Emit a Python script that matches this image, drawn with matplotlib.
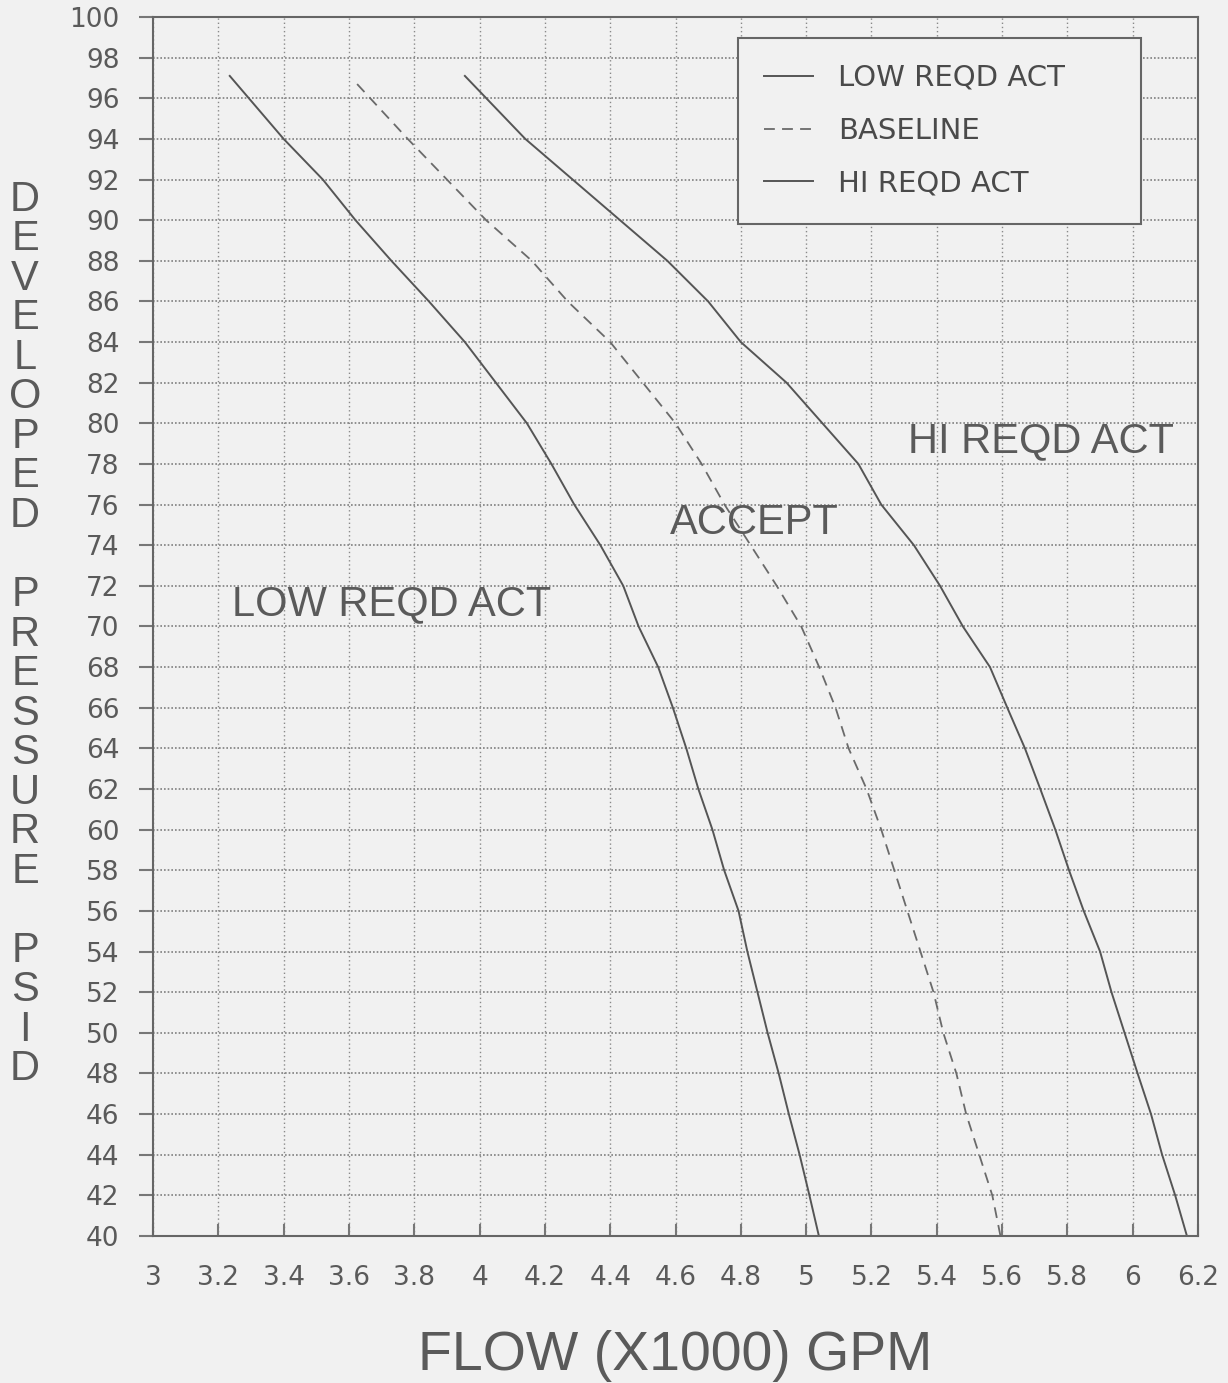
import matplotlib
matplotlib.use("Agg")
import matplotlib.pyplot as plt
from matplotlib.transforms import blended_transform_factory

# pump curve limits (pressure psid vs flow x1000 gpm)
low_press = [97.1, 94, 92, 90, 88, 86, 84, 82, 80, 78, 76, 74, 72, 70, 68,
             66, 64, 62, 60, 58, 56, 54, 52, 50, 48, 46, 44, 42, 40]
low_flow = [3.235, 3.40, 3.52, 3.62, 3.73, 3.845, 3.955, 4.05, 4.145, 4.22,
            4.29, 4.37, 4.44, 4.487, 4.547, 4.592, 4.633, 4.67, 4.713, 4.749,
            4.793, 4.82, 4.851, 4.882, 4.916, 4.947, 4.98, 5.01, 5.039]

base_press = [96.7, 94, 92, 90, 88, 86, 84, 82, 80, 78, 76, 74, 72, 70, 68,
              66, 64, 62, 60, 58, 56, 54, 52, 50, 48, 46, 44, 42, 40]
base_flow = [3.625, 3.78, 3.90, 4.02, 4.16, 4.27, 4.40, 4.50, 4.60, 4.68,
             4.75, 4.83, 4.91, 4.985, 5.04, 5.09, 5.13, 5.185, 5.23, 5.27,
             5.31, 5.35, 5.39, 5.42, 5.46, 5.49, 5.53, 5.57, 5.595]

hi_press = [97.1, 94, 92, 90, 88, 86, 84, 82, 80, 78, 76, 74, 72, 70, 68,
            66, 64, 62, 60, 58, 56, 54, 52, 50, 48, 46, 44, 42, 40]
hi_flow = [3.955, 4.14, 4.285, 4.43, 4.575, 4.70, 4.80, 4.94, 5.05, 5.16,
           5.23, 5.33, 5.41, 5.48, 5.563, 5.616, 5.67, 5.717, 5.763, 5.805,
           5.85, 5.90, 5.935, 5.975, 6.015, 6.056, 6.09, 6.13, 6.166]

x_ticks = [3, 3.2, 3.4, 3.6, 3.8, 4, 4.2, 4.4, 4.6, 4.8, 5, 5.2, 5.4, 5.6,
           5.8, 6, 6.2]
x_tick_labels = ['3', '3.2', '3.4', '3.6', '3.8', '4', '4.2', '4.4', '4.6',
                 '4.8', '5', '5.2', '5.4', '5.6', '5.8', '6', '6.2']
y_ticks = list(range(40, 101, 2))

region_labels = ['LOW REQD ACT', 'ACCEPT', 'HI REQD ACT']
region_x = [3.73, 4.84, 5.72]
region_y = [71.1, 75.1, 79.1]

bg = '#f1f1f1'
txt = '#5a5a5a'
sans = ['Liberation Sans', 'DejaVu Sans']

fig = plt.figure(figsize=(12.28, 13.83), dpi=100, facecolor=bg)
ax = fig.add_axes([0.1246, 0.1063, 0.851, 0.8814])
ax.set_facecolor(bg)

ax.plot(low_flow, low_press, color='#555555', lw=1.4, label='LOW REQD ACT')
ax.plot(base_flow, base_press, color='#6a6a6a', lw=1.3, ls=(0, (6, 4)),
        label='BASELINE')
ax.plot(hi_flow, hi_press, color='#555555', lw=1.4, label='HI REQD ACT')

ax.set_xlim(3, 6.2)
ax.set_ylim(40, 100)
ax.set_xticks(x_ticks)
ax.set_xticklabels(x_tick_labels)
ax.set_yticks(y_ticks)

ax.set_axisbelow(True)
ax.xaxis.grid(True, ls=(0, (1, 2)), color='#8a8a8a', lw=1.0)
ax.yaxis.grid(True, ls=(0, (1, 1.2)), color='#808080', lw=1.2)

for s in ax.spines.values():
    s.set_color('#666666')
    s.set_linewidth(1.5)

ax.tick_params(axis='y', direction='out', length=10, width=1.5,
               color='#777777', pad=14, labelsize=19, labelcolor=txt)
ax.tick_params(axis='x', direction='in', length=9, width=1.5,
               color='#777777', pad=21, labelsize=19, labelcolor=txt)

ax.set_xlabel('FLOW (X1000) GPM', fontsize=40, family=sans, color=txt,
              labelpad=28)

# vertical stacked y label
trans = blended_transform_factory(fig.transFigure, ax.transData)
ylabel_text = 'DEVELOPED PRESSURE PSID'
for i, ch in enumerate(ylabel_text):
    ax.text(0.0204, 91 - 1.945 * i, ch, transform=trans, ha='center',
            va='center', fontsize=30, family=sans, color=txt)

for lab, x, y in zip(region_labels, region_x, region_y):
    ax.text(x, y, lab, ha='center', va='center', fontsize=30, family=sans,
            color=txt)

leg = ax.legend(loc='upper left', bbox_to_anchor=(0.560, 0.983, 0.385, 0),
                mode='expand', borderaxespad=0, fancybox=False,
                framealpha=1, facecolor=bg, edgecolor='#666666',
                prop={'family': 'DejaVu Sans', 'size': 21},
                handlelength=1.65, handletextpad=0.86, borderpad=0.9,
                labelspacing=0.85)
leg.get_frame().set_linewidth(1.5)
for t in leg.get_texts():
    t.set_color('#4a4a4a')

fig.savefig('out.png', dpi=100, facecolor=bg)
